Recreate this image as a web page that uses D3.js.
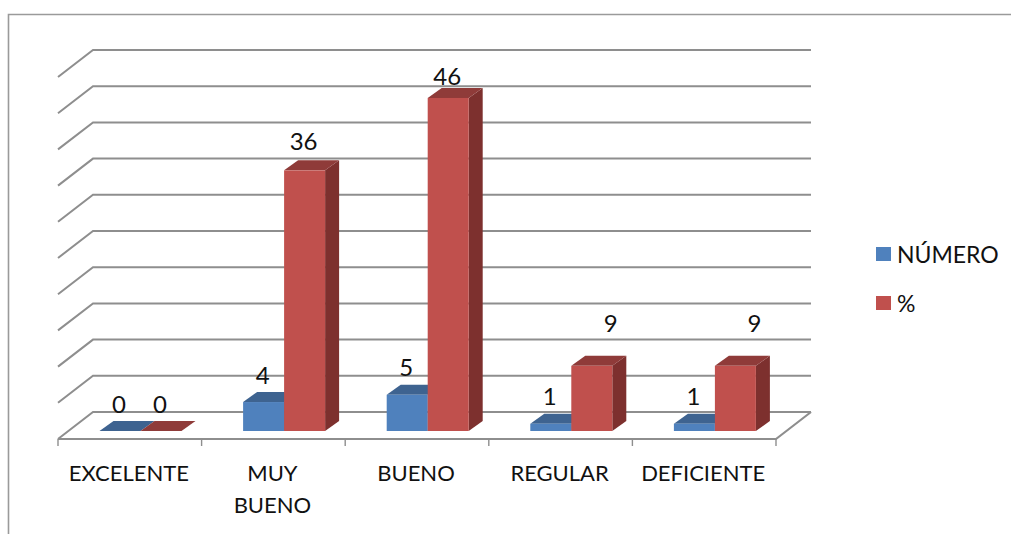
<!DOCTYPE html>
<html lang="es">
<head>
<meta charset="utf-8">
<style>
  html, body { margin: 0; padding: 0; background: #fff; }
  svg { display: block; }
  text { font-family: Lato, "Open Sans", sans-serif; fill: #111; }
</style>
</head>
<body>
<svg id="chart" width="1011" height="534"></svg>
<script src="https://cdn.jsdelivr.net/npm/d3@7/dist/d3.min.js"></script>
<script>
const categories = ["EXCELENTE", "MUY BUENO", "BUENO", "REGULAR", "DEFICIENTE"];
const seriesNames = ["NÚMERO", "%"];
const numero = [0, 4, 5, 1, 1];
const porcentaje = [0, 36, 46, 9, 9];
const gridValues = [0, 5, 10, 15, 20, 25, 30, 35, 40, 45, 50];

const palette = {
  "NÚMERO": { front: "#4f81bd", top: "#3e6390", side: "#3a5d87" },
  "%": { front: "#c0504d", top: "#8f3b39", side: "#7d302e" }
};
const gridColor = "#8e8e8e";
const labelSize = 22;
const legendSize = 23;
const valueSize = 24;

const svg = d3.select("#chart");

// Oblique projection: the floor recedes up and to the right, bars stand part-way in.
const floorDepth = { dx: 35, dy: -27 };
const barDepth = { dx: 14, dy: -10 };
const wallRise = 19;   // back wall baseline above the bars' front plane
const floorDrop = 8;   // floor front edge below the bars' front plane

const x0 = d3.scaleBand().domain(categories).range([58, 776]);
const x1 = d3.scaleBand().domain(seriesNames).range([41.5, 123.5]);
// y gives the height at the plane of the bars' front faces.
const y = d3.scaleLinear().domain([0, 50]).range([431, 69]);

// Outer chart frame (top and left edges only).
svg.append("path")
  .attr("d", "M8.5,534V14.5H1011")
  .attr("fill", "none")
  .attr("stroke", "#9a9a9a")
  .attr("stroke-width", 1.6);

// Back wall gridlines with their diagonal runs on the left wall.
const wallLeft = x0.range()[0];
const wallRight = x0.range()[1];
svg.append("g").selectAll("path")
  .data(gridValues)
  .join("path")
  .attr("d", v => {
    const yb = y(v) - wallRise;
    return `M${wallLeft},${yb - floorDepth.dy}L${wallLeft + floorDepth.dx},${yb}H${wallRight + floorDepth.dx}`;
  })
  .attr("fill", "none")
  .attr("stroke", gridColor)
  .attr("stroke-width", 2);

// Floor edge, right diagonal and the category tick marks.
const floorFrontY = y(0) + floorDrop;
svg.append("path")
  .attr("d", `M${wallLeft},${floorFrontY}H${wallRight}l${floorDepth.dx},${floorDepth.dy}`)
  .attr("fill", "none")
  .attr("stroke", gridColor)
  .attr("stroke-width", 2.2);

const tickPositions = categories.map(c => x0(c)).concat(wallRight);
svg.append("g").selectAll("line")
  .data(tickPositions)
  .join("line")
  .attr("x1", d => d).attr("x2", d => d)
  .attr("y1", floorFrontY).attr("y2", floorFrontY + 7)
  .attr("stroke", gridColor)
  .attr("stroke-width", 1.4);

// Bars, painted back to front: top and side faces first, then the front face.
const rows = categories.map((c, i) => [
  { cat: c, name: seriesNames[0], value: numero[i] },
  { cat: c, name: seriesNames[1], value: porcentaje[i] }
]);

const catGroups = svg.append("g").selectAll("g")
  .data(rows)
  .join("g");

const bars = catGroups.selectAll("g")
  .data(d => d)
  .join("g");

const left = d => x0(d.cat) + x1(d.name);
const right = d => left(d) + x1.bandwidth();

bars.append("path")
  .attr("fill", d => palette[d.name].side)
  .attr("d", d => `M${right(d)},${y(d.value)}l${barDepth.dx},${barDepth.dy}V${y(0) + barDepth.dy}L${right(d)},${y(0)}Z`);
bars.append("path")
  .attr("fill", d => palette[d.name].top)
  .attr("d", d => `M${left(d)},${y(d.value)}l${barDepth.dx},${barDepth.dy}H${right(d) + barDepth.dx}L${right(d)},${y(d.value)}Z`);
bars.append("rect")
  .attr("x", left)
  .attr("y", d => y(d.value))
  .attr("width", x1.bandwidth())
  .attr("height", d => y(0) - y(d.value))
  .attr("fill", d => palette[d.name].front);

// Value labels sit above their bars; the % labels keep their own hand-placed lift.
const labelLift = d => {
  if (d.name !== "%") return 28;
  if (d.value === 9) return 43;
  if (d.value === 46) return 22;
  if (d.value === 36) return 30;
  return 28;
};
const labelShift = d => (d.name === "%" && d.value === 9 ? 20 : 0);
svg.append("g").selectAll("text")
  .data(rows.flat())
  .join("text")
  .attr("text-anchor", "middle")
  .attr("dominant-baseline", "central")
  .attr("font-size", valueSize)
  .attr("x", d => left(d) + x1.bandwidth() / 2 - 1 + labelShift(d))
  .attr("y", d => y(d.value) - labelLift(d))
  .text(d => d.value);

// Category labels, wrapped on spaces where the band is too narrow.
const catLabels = svg.append("g").selectAll("text")
  .data(categories)
  .join("text")
  .attr("text-anchor", "middle")
  .attr("font-size", labelSize)
  .attr("y", 481);
catLabels.selectAll("tspan")
  .data(c => c.split(" ").map(line => ({ c, line })))
  .join("tspan")
  .attr("x", d => x0(d.c) + x0.bandwidth() / 2 - 1)
  .attr("dy", (d, i) => i ? 32 : 0)
  .text(d => d.line);

// Legend.
const legendY = d3.scalePoint().domain(seriesNames).range([254, 303]);
const legend = svg.append("g").selectAll("g")
  .data(seriesNames)
  .join("g")
  .attr("transform", d => `translate(876,${legendY(d)})`);
legend.append("rect")
  .attr("y", -7)
  .attr("width", 15)
  .attr("height", 14)
  .attr("fill", d => palette[d].front);
legend.append("text")
  .attr("x", 21)
  .attr("dominant-baseline", "central")
  .attr("font-size", legendSize)
  .text(d => d);
</script>
</body>
</html>
